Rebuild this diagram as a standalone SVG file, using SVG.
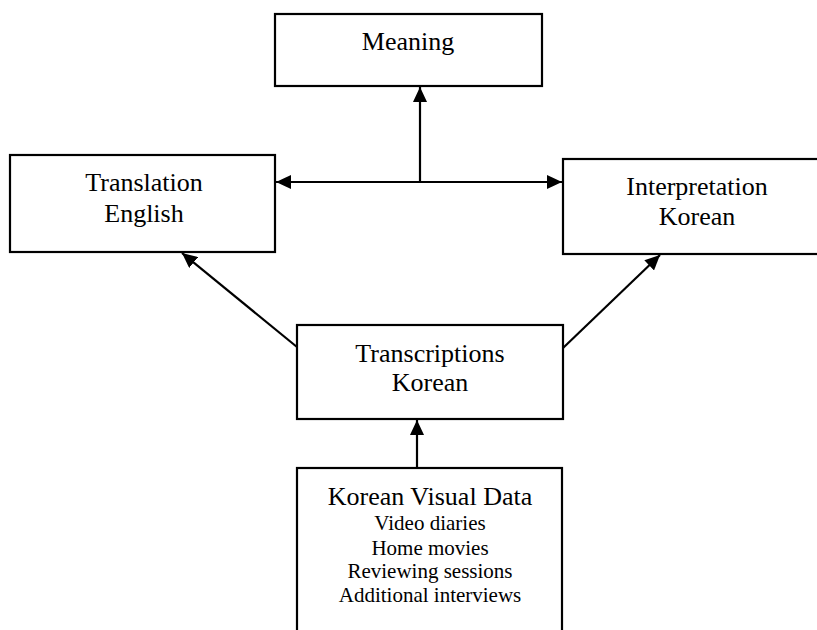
<svg xmlns="http://www.w3.org/2000/svg" width="817" height="630" viewBox="0 0 817 630">
  <style>
    .box { fill: #fff; stroke: #000; stroke-width: 2.2; }
    .t { font-family: "Liberation Serif", "Times New Roman", serif; fill: #000; text-anchor: middle; }
    .big { font-size: 26px; }
    .small { font-size: 21px; }
    .conn line { stroke: #000; stroke-width: 2.2; }
  </style>
  <defs>
    <marker id="ah" markerUnits="userSpaceOnUse" markerWidth="16" markerHeight="14" viewBox="0 0 16 14" refX="15" refY="7" orient="auto">
      <path d="M0,0 L15,7 L0,14 Z" fill="#000"/>
    </marker>
  </defs>
  <rect width="817" height="630" fill="#fff"/>
  <g id="meaning">
    <rect class="box" x="275" y="14" width="267" height="72"/>
    <text class="t big" x="408" y="50">Meaning</text>
  </g>
  <g id="translation">
    <rect class="box" x="10" y="155" width="265" height="97"/>
    <text class="t big" x="144" y="191">Translation</text>
    <text class="t big" x="144" y="222">English</text>
  </g>
  <g id="interpretation">
    <rect class="box" x="563" y="159" width="270" height="95"/>
    <text class="t big" x="697" y="195">Interpretation</text>
    <text class="t big" x="697" y="225">Korean</text>
  </g>
  <g id="transcriptions">
    <rect class="box" x="297" y="325" width="266" height="94"/>
    <text class="t big" x="430" y="362">Transcriptions</text>
    <text class="t big" x="430" y="391">Korean</text>
  </g>
  <g id="visualdata">
    <rect class="box" x="297" y="468" width="265" height="180"/>
    <text class="t big" x="430" y="505">Korean Visual Data</text>
    <text class="t small" x="430" y="530">Video diaries</text>
    <text class="t small" x="430" y="555">Home movies</text>
    <text class="t small" x="430" y="578">Reviewing sessions</text>
    <text class="t small" x="430" y="602">Additional interviews</text>
  </g>
  <g id="connectors" class="conn">
    <line x1="420" y1="182" x2="420" y2="87" marker-end="url(#ah)"/>
    <line x1="420" y1="182" x2="276" y2="182" marker-end="url(#ah)"/>
    <line x1="420" y1="182" x2="562" y2="182" marker-end="url(#ah)"/>
    <line x1="297" y1="347" x2="182" y2="253" marker-end="url(#ah)"/>
    <line x1="563" y1="348" x2="660" y2="255" marker-end="url(#ah)"/>
    <line x1="417" y1="468" x2="417" y2="420" marker-end="url(#ah)"/>
  </g>
</svg>
